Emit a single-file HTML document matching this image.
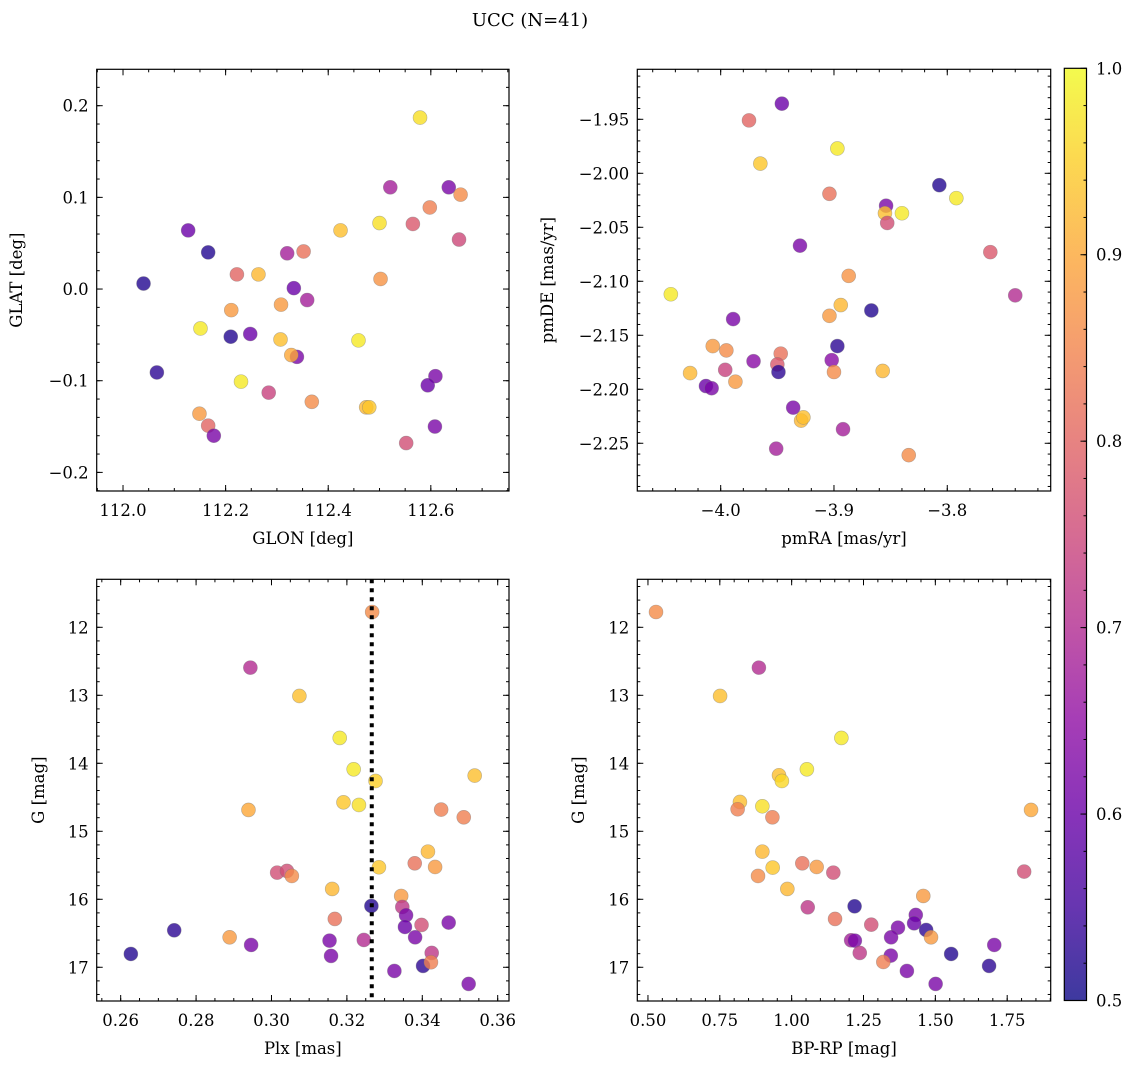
<!DOCTYPE html>
<html><head><meta charset="utf-8"><style>
body{margin:0;background:#fff;}
svg{display:block;font-family:"DejaVu Serif","Liberation Serif",serif;}
</style></head><body>
<svg id="fig" width="1136" height="1068" viewBox="0 0 1136 1068" xmlns="http://www.w3.org/2000/svg">
<defs>
<linearGradient id="plasma" x1="0" y1="1" x2="0" y2="0">
<stop offset="0" stop-color="#0d0887"/><stop offset="0.1" stop-color="#41049d"/><stop offset="0.2" stop-color="#6a00a8"/><stop offset="0.3" stop-color="#8f0da4"/><stop offset="0.4" stop-color="#b12a90"/><stop offset="0.5" stop-color="#cc4778"/><stop offset="0.6" stop-color="#e16462"/><stop offset="0.7" stop-color="#f2844b"/><stop offset="0.8" stop-color="#fca636"/><stop offset="0.9" stop-color="#fcce25"/><stop offset="1" stop-color="#f0f921"/>
</linearGradient>
</defs>
<text x="530" y="26" font-size="18" text-anchor="middle">UCC (N=41)</text>
</svg>
<script>
// Panel 1: GLON / GLAT
const glon=[112.579,112.521,112.635,112.658,112.598,112.500,112.565,112.424,112.655,112.127,112.166,112.320,112.352,112.222,112.264,112.040,112.502,112.333,112.359,112.211,112.308,112.151,112.210,112.248,112.307,112.459,112.339,112.328,112.066,112.609,112.594,112.230,112.284,112.368,112.474,112.480,112.149,112.166,112.177,112.608,112.552];
const glat=[0.187,0.111,0.111,0.103,0.089,0.072,0.071,0.064,0.054,0.064,0.040,0.039,0.041,0.016,0.016,0.006,0.011,0.001,-0.012,-0.023,-0.017,-0.043,-0.052,-0.049,-0.055,-0.056,-0.074,-0.072,-0.091,-0.095,-0.105,-0.101,-0.113,-0.123,-0.129,-0.129,-0.136,-0.149,-0.160,-0.150,-0.168];
const prob1=[0.97,0.68,0.62,0.86,0.84,0.97,0.78,0.93,0.75,0.60,0.52,0.68,0.82,0.80,0.92,0.52,0.87,0.60,0.68,0.88,0.88,0.98,0.52,0.60,0.93,0.98,0.62,0.90,0.53,0.62,0.60,0.98,0.74,0.86,0.92,0.94,0.88,0.80,0.62,0.62,0.76];
// Panel 2: pmRA / pmDE
const pmra=[-3.946,-3.975,-3.897,-3.965,-3.904,-3.807,-3.792,-3.854,-3.855,-3.840,-3.853,-3.930,-3.762,-3.887,-4.044,-3.740,-3.894,-3.867,-3.904,-3.989,-4.007,-3.995,-3.897,-3.947,-3.971,-3.902,-3.950,-3.949,-3.900,-3.996,-3.857,-4.027,-3.987,-4.013,-4.008,-3.936,-3.929,-3.927,-3.892,-3.951,-3.834];
const pmde=[-1.9355,-1.951,-1.977,-1.991,-2.019,-2.011,-2.023,-2.030,-2.037,-2.037,-2.046,-2.067,-2.073,-2.095,-2.112,-2.113,-2.122,-2.127,-2.132,-2.135,-2.160,-2.164,-2.160,-2.167,-2.174,-2.173,-2.177,-2.184,-2.184,-2.182,-2.183,-2.185,-2.193,-2.197,-2.199,-2.217,-2.229,-2.226,-2.237,-2.255,-2.261];
const prob2=[0.60,0.80,0.98,0.94,0.82,0.52,0.98,0.62,0.93,0.98,0.76,0.62,0.78,0.87,0.98,0.70,0.92,0.52,0.88,0.62,0.88,0.86,0.53,0.82,0.64,0.64,0.78,0.53,0.86,0.74,0.92,0.92,0.88,0.60,0.62,0.62,0.92,0.93,0.68,0.68,0.86];
// Panel 3: Plx / G
const plx=[0.3267,0.2944,0.3074,0.3181,0.3218,0.3276,0.3539,0.2939,0.3191,0.3232,0.3450,0.3510,0.3415,0.3285,0.3380,0.3434,0.3015,0.3041,0.3054,0.3161,0.3344,0.3265,0.3347,0.3357,0.3168,0.3398,0.3470,0.3354,0.3381,0.2742,0.2889,0.2946,0.3154,0.3245,0.2627,0.3158,0.3425,0.3402,0.3423,0.3326,0.3523];
const gmag3=[11.775,12.593,13.01,13.627,14.088,14.26,14.181,14.686,14.574,14.613,14.681,14.794,15.299,15.529,15.471,15.525,15.608,15.583,15.657,15.848,15.951,16.098,16.113,16.235,16.289,16.377,16.343,16.407,16.559,16.456,16.559,16.672,16.608,16.598,16.804,16.833,16.789,16.98,16.926,17.054,17.245];
const prob3=[0.86,0.70,0.93,0.98,0.98,0.95,0.93,0.90,0.94,0.97,0.84,0.84,0.92,0.94,0.82,0.88,0.76,0.76,0.86,0.92,0.88,0.52,0.72,0.62,0.82,0.76,0.62,0.60,0.62,0.53,0.88,0.62,0.62,0.70,0.52,0.62,0.72,0.53,0.84,0.62,0.62];
const plxLine=[0.3266];
// Panel 4: BP-RP / G
const bprp=[0.528,0.886,0.751,1.173,1.053,0.956,0.966,1.833,0.820,0.812,0.898,0.933,0.898,0.934,1.037,1.087,1.145,1.809,0.883,0.985,1.458,1.219,1.056,1.432,1.151,1.277,1.370,1.426,1.468,1.485,1.346,1.207,1.220,1.705,1.237,1.555,1.345,1.319,1.687,1.401,1.501];
const gmag4=[11.775,12.593,13.01,13.627,14.088,14.176,14.26,14.686,14.569,14.676,14.632,14.794,15.299,15.534,15.471,15.525,15.608,15.593,15.657,15.848,15.951,16.103,16.118,16.230,16.289,16.373,16.417,16.353,16.451,16.559,16.559,16.603,16.608,16.672,16.789,16.804,16.828,16.922,16.980,17.054,17.245];
const prob4=[0.86,0.70,0.93,0.98,0.98,0.93,0.96,0.90,0.93,0.84,0.97,0.84,0.92,0.94,0.82,0.88,0.76,0.76,0.86,0.92,0.88,0.52,0.72,0.62,0.82,0.76,0.62,0.60,0.53,0.88,0.62,0.68,0.62,0.62,0.72,0.52,0.62,0.84,0.53,0.62,0.62];
// tick labels
const ticksGLON=[112.0,112.2,112.4,112.6], ticksGLAT=[-0.2,-0.1,0.0,0.1,0.2];
const ticksPMRA=[-4.0,-3.9,-3.8], ticksPMDE=[-2.25,-2.20,-2.15,-2.10,-2.05,-2.00,-1.95];
const ticksPLX=[0.26,0.28,0.30,0.32,0.34,0.36], ticksG=[12,13,14,15,16,17];
const ticksBPRP=[0.50,0.75,1.00,1.25,1.50,1.75], ticksCB=[0.5,0.6,0.7,0.8,0.9,1.0];

const NS='http://www.w3.org/2000/svg';
const svg=document.getElementById('fig');
const FS=16.5;
function mk(tag,attrs,parent){const e=document.createElementNS(NS,tag);for(const k in attrs)e.setAttribute(k,attrs[k]);(parent||svg).appendChild(e);return e;}
const stops=[[0,'#0d0887'],[0.1,'#41049d'],[0.2,'#6a00a8'],[0.3,'#8f0da4'],[0.4,'#b12a90'],[0.5,'#cc4778'],[0.6,'#e16462'],[0.7,'#f2844b'],[0.8,'#fca636'],[0.9,'#fcce25'],[1,'#f0f921']];
function hex(h){return [1,3,5].map(i=>parseInt(h.substr(i,2),16));}
function plasma(v){let t=Math.max(0,Math.min(1,(v-0.5)/0.5));for(let i=0;i<stops.length-1;i++){if(t<=stops[i+1][0]){const a=hex(stops[i][1]),b=hex(stops[i+1][1]);const f=(t-stops[i][0])/(stops[i+1][0]-stops[i][0]);return 'rgb('+a.map((c,j)=>Math.round(c+(b[j]-c)*f)).join(',')+')';}}return stops[10][1];}

function panel(cfg){
  const g=mk('g',{});
  
  
  const {L,R,T,B,x0,x1,y0,y1}=cfg;
  const sx=v=>L+(v-x0)/(x1-x0)*(R-L);
  const sy=cfg.invert? (v=>T+(v-y0)/(y1-y0)*(B-T)) : (v=>B-(v-y0)/(y1-y0)*(B-T));
  cfg.xs.forEach((xv,i)=>{
    const c=mk('circle',{cx:sx(xv),cy:sy(cfg.ys[i]),r:7,fill:plasma(cfg.ps[i]),'fill-opacity':0.8,stroke:'#777','stroke-opacity':0.5,'stroke-width':0.6},g);
    
    
  });
  if(cfg.vline){cfg.vline.forEach(v=>{const l=mk('line',{x1:sx(v),x2:sx(v),y1:T,y2:B,stroke:'#000','stroke-width':4,'stroke-dasharray':'4 5'},g);
    
    });}
  mk('rect',{x:L,y:T,width:R-L,height:B-T,fill:'none',stroke:'#000','stroke-width':1.2},g);
  const xstep=cfg.xminor;
  for(let v=Math.ceil(x0/xstep-1e-6)*xstep; v<=x1+1e-9; v+=xstep){const X=sx(v);
    mk('line',{x1:X,x2:X,y1:B,y2:B-3,stroke:'#000'},g);mk('line',{x1:X,x2:X,y1:T,y2:T+3,stroke:'#000'},g);}
  cfg.xt.forEach(v=>{const X=sx(v);mk('line',{x1:X,x2:X,y1:B,y2:B-6,stroke:'#000'},g);mk('line',{x1:X,x2:X,y1:T,y2:T+6,stroke:'#000'},g);
    const t=mk('text',{x:X,y:B+25,'font-size':FS,'text-anchor':'middle'},g);t.textContent=cfg.xfmt(v);
    
    });
  const ystep=cfg.yminor;
  for(let v=Math.ceil(y0/ystep-1e-6)*ystep; v<=y1+1e-9; v+=ystep){const Y=sy(v);
    mk('line',{x1:L,x2:L+3,y1:Y,y2:Y,stroke:'#000'},g);mk('line',{x1:R,x2:R-3,y1:Y,y2:Y,stroke:'#000'},g);}
  cfg.yt.forEach(v=>{const Y=sy(v);mk('line',{x1:L,x2:L+6,y1:Y,y2:Y,stroke:'#000'},g);mk('line',{x1:R,x2:R-6,y1:Y,y2:Y,stroke:'#000'},g);
    const t=mk('text',{x:L-8,y:Y+6,'font-size':FS,'text-anchor':'end'},g);t.textContent=cfg.yfmt(v);
    
    });
  const xl=mk('text',{x:(L+R)/2,y:B+53,'font-size':FS,'text-anchor':'middle'},g);xl.textContent=cfg.xlabel;
  
  
  const yl=mk('text',{x:0,y:0,'font-size':FS,'text-anchor':'middle',transform:`translate(${cfg.ylx},${(T+B)/2}) rotate(-90)`},g);yl.textContent=cfg.ylabel;
  
  
}
const m=v=>v<0?'\u2212'+Math.abs(v):String(v);
panel({name:'glon-glat-panel',L:96.7,R:509,T:69.3,B:491,x0:111.9487,x1:112.7524,y0:-0.2203,y1:0.2397,xs:glon,ys:glat,ps:prob1,
  xt:ticksGLON,yt:ticksGLAT,xminor:0.05,yminor:0.02,xfmt:v=>v.toFixed(1),yfmt:v=>v<0?'\u2212'+Math.abs(v).toFixed(1):v.toFixed(1),xlabel:'GLON [deg]',ylabel:'GLAT [deg]',ylx:22});
panel({name:'pmra-pmde-panel',L:637.3,R:1050.7,T:69.3,B:491,x0:-4.0736,x1:-3.7087,y0:-2.2942,y1:-1.9037,xs:pmra,ys:pmde,ps:prob2,
  xt:ticksPMRA,yt:ticksPMDE,xminor:0.02,yminor:0.01,xfmt:v=>'\u2212'+Math.abs(v).toFixed(1),yfmt:v=>'\u2212'+Math.abs(v).toFixed(2),xlabel:'pmRA [mas/yr]',ylabel:'pmDE [mas/yr]',ylx:553});
panel({name:'plx-g-panel',L:96.7,R:509,T:579.3,B:1001,x0:0.25364,x1:0.36300,y0:11.294,y1:17.496,invert:true,xs:plx,ys:gmag3,ps:prob3,vline:plxLine,
  xt:ticksPLX,yt:ticksG,xminor:0.005,yminor:0.2,xfmt:v=>v.toFixed(2),yfmt:v=>String(v),xlabel:'Plx [mas]',ylabel:'G [mag]',ylx:44});
panel({name:'bprp-g-panel',L:637.3,R:1050.7,T:579.3,B:1001,x0:0.4629,x1:1.9014,y0:11.294,y1:17.496,invert:true,xs:bprp,ys:gmag4,ps:prob4,
  xt:ticksBPRP,yt:ticksG,xminor:0.05,yminor:0.2,xfmt:v=>v.toFixed(2),yfmt:v=>String(v),xlabel:'BP-RP [mag]',ylabel:'G [mag]',ylx:584});
const cb=mk('g',{});


const cL=1064.3,cR=1086.5,cT=68.3,cB=1000.5;
mk('rect',{x:cL,y:cT,width:cR-cL,height:cB-cT,fill:'url(#plasma)','fill-opacity':0.8},cb);
mk('rect',{x:cL,y:cT,width:cR-cL,height:cB-cT,fill:'none',stroke:'#000','stroke-width':1.2},cb);
const cy=v=>cB-(v-0.5)/0.5*(cB-cT);
for(let v=0.5;v<=1.0001;v+=0.02){mk('line',{x1:cR,x2:cR-3,y1:cy(v),y2:cy(v),stroke:'#000'},cb);}
ticksCB.forEach(v=>{mk('line',{x1:cR,x2:cR-6,y1:cy(v),y2:cy(v),stroke:'#000'},cb);
  const t=mk('text',{x:1096,y:cy(v)+6,'font-size':FS},cb);t.textContent=v.toFixed(1);
  
  });
</script>
</body></html>
